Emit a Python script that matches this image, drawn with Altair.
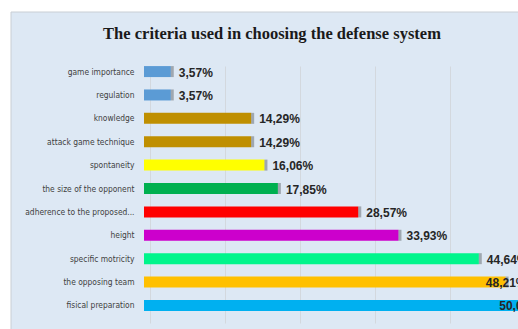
import altair as alt
import pandas as pd

categories = ["game importance", "regulation", "knowledge", "attack game technique",
              "spontaneity", "the size of the opponent", "adherence to the proposed...",
              "height", "specific motricity", "the opposing team", "fisical preparation"]
values = [3.57, 3.57, 14.29, 14.29, 16.06, 17.85, 28.57, 33.93, 44.64, 48.21, 50.0]
colors = ["#5b9bd5", "#5b9bd5", "#bf8f00", "#bf8f00", "#ffff00", "#00b050",
          "#ff0000", "#cc00cc", "#00f58c", "#ffc000", "#00b0f0"]
title_text = "The criteria used in choosing the defense system"

df = pd.DataFrame({"cat": categories, "v": values, "col": colors})

W, H = 374, 257
xmax = W / 7.5

xs = alt.Scale(domain=[0, xmax], nice=False, zero=True)
ycat = alt.Y("cat:N", sort=categories, title=None,
             scale=alt.Scale(paddingInner=0.53, paddingOuter=0.26),
             axis=alt.Axis(domain=False, ticks=False, labelPadding=10,
                           labelFont="DejaVu Sans Condensed", labelFontSize=8.4,
                           labelColor="#404040", labelLimit=140))

base = alt.Chart(df)

bars = base.mark_bar(clip=True, size=11, stroke=None).encode(
    x=alt.X("v:Q", scale=xs, title=None,
            axis=alt.Axis(values=[0, 10, 20, 30, 40], labels=False, ticks=False,
                          domain=False, grid=True, gridColor="#d3d8de",
                          gridWidth=1, translate=6.5)),
    y=ycat,
    color=alt.Color("col:N", scale=None),
)

caps = base.transform_calculate(v2="datum.v + 0.4").mark_bar(
    clip=True, size=11, color="black", opacity=0.28).encode(
    x=alt.X("v:Q", scale=xs), x2="v2:Q", y=ycat)

labels = base.transform_calculate(
    lbl="replace(format(datum.v, '.2f'), '.', ',') + '%'",
    lx="datum.v > 46 ? datum.v - 3.7 : datum.v"
).mark_text(clip=True, align="left", baseline="middle", dx=8, dy=1,
            font="Liberation Sans", fontWeight="bold", fontSize=12,
            color="#262626").encode(
    x=alt.X("lx:Q", scale=xs), y=ycat, text="lbl:N")

deco = alt.Data(values=[{"k": 1}])
strip_left = alt.Chart(deco).mark_rect(color="white", clip=False).encode(
    x=alt.value(-144), x2=alt.value(-133), y=alt.value(-60), y2=alt.value(300))
strip_top = alt.Chart(deco).mark_rect(color="white", clip=False).encode(
    x=alt.value(-144), x2=alt.value(400), y=alt.value(-60), y2=alt.value(-48))
border = alt.Chart(deco).mark_rect(fill=None, stroke="#c9ced4", strokeWidth=1,
                                   clip=False).encode(
    x=alt.value(-133), x2=alt.value(420), y=alt.value(-48), y2=alt.value(300))

chart = alt.layer(strip_left, strip_top, border, bars, caps, labels).properties(
    width=W, height=H,
    title=alt.TitleParams(title_text, font="Liberation Serif", fontSize=16.5,
                          fontWeight="bold", color="#1a1a1a", anchor="middle",
                          frame="group", dx=-59, offset=-42),
    autosize=alt.AutoSizeParams(type="none"),
    padding={"left": 144, "top": 60, "right": 0, "bottom": 12},
    background="#dde8f4",
).configure_view(stroke=None)

chart.save("out.html", embed_options={"renderer": "svg", "actions": False})
